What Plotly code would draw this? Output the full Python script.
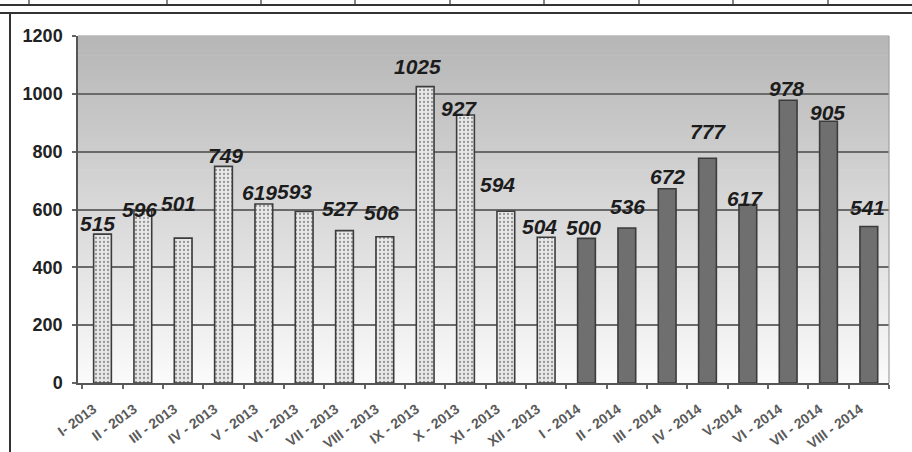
import plotly.graph_objects as go

# ---- data ----
categories = ['I- 2013', 'II - 2013', 'III - 2013', 'IV - 2013', 'V - 2013', 'VI - 2013',
              'VII - 2013', 'VIII - 2013', 'IX - 2013', 'X - 2013', 'XI - 2013', 'XII - 2013',
              'I - 2014', 'II - 2014', 'III - 2014', 'IV - 2014', 'V-2014', 'VI - 2014',
              'VII - 2014', 'VIII - 2014']
values = [515, 596, 501, 749, 619, 593, 527, 506, 1025, 927, 594, 504,
          500, 536, 672, 777, 617, 978, 905, 541]
years = [2013] * 12 + [2014] * 8
y_ticks = [0, 200, 400, 600, 800, 1000, 1200]

# ---- style (label placement offsets in px) ----
label_dy = [11, 1, 35, 11, 12, 20, 22, 24, 20, 6, 27, 11, 11, 22, 12, 27, 6, 12, 9, 19]
label_dx = [-5, -3, -5, 2, -4, -10, -5, -3, -8, -7, -8, -7, -3, 1, 0, 0, -3, -2, -1, -1]

W, H = 912, 452
L, R, T, B = 78, 889, 36, 383

def px(x):
    return (x - L) / (R - L)

def py(y):
    return (B - y) / (B - T)

fill_colors = ['#e8e8e8' if yr == 2013 else '#6f6f6f' for yr in years]
patterns = ['.' if yr == 2013 else '' for yr in years]

fig = go.Figure()
fig.add_trace(go.Bar(
    x=categories, y=values,
    marker=dict(color=fill_colors, opacity=1,
                line=dict(color='#3c3c3c', width=1.6),
                pattern=dict(shape=patterns, fgcolor='#c6c6c6',
                             size=4, solidity=0.25, fillmode='overlay')),
    showlegend=False, hoverinfo='x+y',
))

shapes = []
# vertical gradient plot background
n = 70
c_top, c_bot = 0xb6, 0xfa
for i in range(n):
    f = i / (n - 1)
    c = int(round(c_top + (c_bot - c_top) * f))
    col = f'rgb({c},{c},{c})'
    shapes.append(dict(type='rect', xref='x domain', yref='y domain',
                       x0=0, x1=1, y0=1 - (i + 1) / n, y1=1 - i / n + 0.002,
                       fillcolor=col, line=dict(width=0), layer='below'))
# right border of plot area
shapes.append(dict(type='line', xref='x domain', yref='y domain', x0=1, x1=1, y0=0, y1=1,
                   line=dict(color='#a0a0a0', width=1.2), layer='above'))
# scanned frame / table lines
shapes.append(dict(type='line', xref='paper', yref='paper', x0=px(0), x1=px(W),
                   y0=py(5), y1=py(5), line=dict(color='#333', width=2)))
shapes.append(dict(type='line', xref='paper', yref='paper', x0=px(0), x1=px(W),
                   y0=py(13), y1=py(13), line=dict(color='#333', width=2)))
shapes.append(dict(type='line', xref='paper', yref='paper', x0=px(10), x1=px(10),
                   y0=py(13), y1=py(H), line=dict(color='#333', width=2)))
for xv in [29, 167, 261, 355, 450, 544, 639, 733, 828]:
    shapes.append(dict(type='line', xref='paper', yref='paper', x0=px(xv), x1=px(xv),
                       y0=py(0), y1=py(5), line=dict(color='#333', width=1.2)))

annotations = []
for cat, v, dy, dx in zip(categories, values, label_dy, label_dx):
    annotations.append(dict(x=cat, y=v, xref='x', yref='y', text=str(v), showarrow=False,
                            yanchor='middle', xanchor='center', yshift=dy, xshift=dx,
                            font=dict(family='Liberation Sans, Arial', size=21,
                                      color='#1c1c1c', weight='bold', style='italic')))

fig.update_layout(
    width=W, height=H,
    margin=dict(l=L, r=W - R, t=T, b=H - B, autoexpand=False),
    paper_bgcolor='white', plot_bgcolor='rgba(0,0,0,0)',
    bargap=0.56,
    shapes=shapes, annotations=annotations,
    xaxis=dict(type='category', tickangle=-36, tickson='boundaries',
               ticks='outside', ticklen=4, tickcolor='#666', tickwidth=1.5,
               showline=True, linecolor='#555', linewidth=1.5, automargin=False,
               showgrid=False, ticklabelstandoff=11, ticklabelshift=-9,
               tickfont=dict(family='Liberation Sans, Arial', size=14, color='#5a5a5a',
                             weight='bold')),
    yaxis=dict(range=[0, 1200], tickvals=y_ticks, ticks='outside', ticklen=4,
               tickcolor='#666', tickwidth=1.5, automargin=False,
               showline=True, linecolor='#555', linewidth=1.5,
               showgrid=True, gridcolor='#6a6a6a', gridwidth=1.5,
               zeroline=False, ticklabelstandoff=6,
               tickfont=dict(family='Liberation Sans, Arial', size=18, color='#222',
                             weight='bold')),
)

fig.write_html('out.html', config={'displayModeBar': False},
               post_script="document.body.style.margin='0';")
